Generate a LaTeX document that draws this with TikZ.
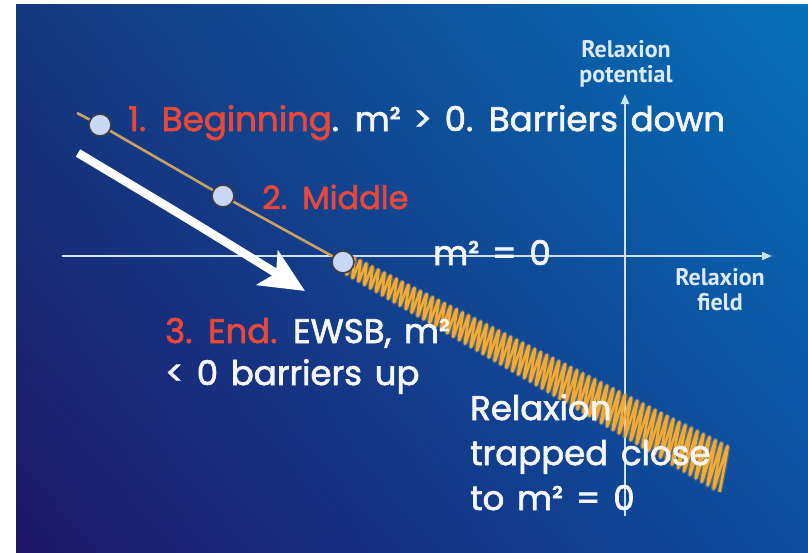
\documentclass[tikz,border=0pt]{standalone}
\usepackage{fontspec}
\setmainfont{Poppins}[WordSpace=1.4, FakeBold=2]
\newfontfamily\lblfont{PT Sans}
\usetikzlibrary{arrows.meta,shadings}
\definecolor{bgUL}{HTML}{14387F}
\definecolor{bgUR}{HTML}{0670B8}
\definecolor{bgLL}{HTML}{1E176A}
\definecolor{bgLR}{HTML}{0D4E9E}
\definecolor{axiscol}{HTML}{CFE2F3}
\definecolor{tancol}{HTML}{C9A165}
\definecolor{ballfill}{HTML}{C8D8F4}
\definecolor{ballline}{HTML}{3C3C44}
\definecolor{zigcol}{HTML}{F2AA32}
\definecolor{redtxt}{HTML}{E8483A}
\definecolor{whitetxt}{HTML}{F6F6F6}
\definecolor{lbltxt}{HTML}{DCE9F6}
\tikzset{
  axis/.style={draw=axiscol, line width=2pt, -{Triangle[length=10pt,width=8pt]}},
  ball/.style={circle, draw=ballline, line width=1.6pt, fill=ballfill, minimum size=22pt, inner sep=0pt},
  hand/.style={text=whitetxt, font=\fontsize{34}{36}\selectfont, inner sep=0pt},
  axlabel/.style={text=lbltxt, font=\lblfont\bfseries\fontsize{24}{25}\selectfont, align=center, inner sep=0pt},
}
\begin{document}
\begin{tikzpicture}[x=1pt,y=-1pt]
\useasboundingbox (0,0) rectangle (808,552);
\fill[white] (0,0) rectangle (808,552);
\shade[upper left=bgUL, upper right=bgUR, lower left=bgLL, lower right=bgLR] (16,4) rectangle (808,552);

% axes
\coordinate (hstart) at (62,256);
\coordinate (hend) at (772,256);
\coordinate (vstart) at (625,516);
\coordinate (vend) at (625,94);
\draw[axis] (hstart) -- (hend);
\draw[axis] (vstart) -- (vend);
\node[axlabel, anchor=base] (pot) at (626,82) {Relaxion\\potential};
\node[axlabel, anchor=base] (fld) at (720,310) {Relaxion\\field};

% points
\coordinate (lstart) at (77,113);
\coordinate (c1) at (100,125);
\coordinate (c2) at (223,196);
\coordinate (c3) at (343,262);

% zigzag
\draw[zigcol!80, opacity=0.3, line width=5pt, line join=round]
  plot[smooth, domain=0:128, samples=129, variable=\k]
  ({343+(\k/128)*382 - 0.25*(9+(\k/128)*13)*cos(180*mod(\k,2))}, {262+(\k/128)*208 + (9+(\k/128)*13)*cos(180*mod(\k,2))});
\draw[zigcol, line width=2.6pt, line join=round]
  plot[smooth, domain=0:128, samples=129, variable=\k]
  ({343+(\k/128)*382 - 0.25*(9+(\k/128)*13)*cos(180*mod(\k,2))}, {262+(\k/128)*208 + (9+(\k/128)*13)*cos(180*mod(\k,2))});
\draw[tancol, line width=2.6pt] (lstart) -- (c1) -- (c2) -- (c3);
\node[ball] (b1) at (c1) {};
\node[ball] (b2) at (c2) {};
\node[ball] (b3) at (c3) {};

% white arrow
\coordinate (astart) at (78,153);
\coordinate (aend) at (305,291);
\draw[white, line width=8.5pt, -{Stealth[length=44pt,width=40pt,inset=10pt]}]
  (astart) .. controls (190,220) .. (aend);

% texts
\node[hand, anchor=base west] (t1) at (128,131) {\textcolor{redtxt}{1. Beginning}. m² > 0. Barriers down};
\node[hand, anchor=base west, text=redtxt, font=\fontsize{32}{34}\selectfont] (t2) at (262,209) {2. Middle};
\node[hand, anchor=base west] (t3) at (433,265) {m² = 0};
\node[hand, anchor=base west] (t4) at (165,343) {\textcolor{redtxt}{3. End.} EWSB, m²};
\node[hand, anchor=base west] (t5) at (165,385) {< 0 barriers up};
\node[hand, anchor=base west] (t6) at (470,420) {Relaxion};
\node[hand, anchor=base west] (t7) at (470,465) {trapped close};
\node[hand, anchor=base west] (t8) at (470,510) {to m² = 0};
\end{tikzpicture}
\end{document}
